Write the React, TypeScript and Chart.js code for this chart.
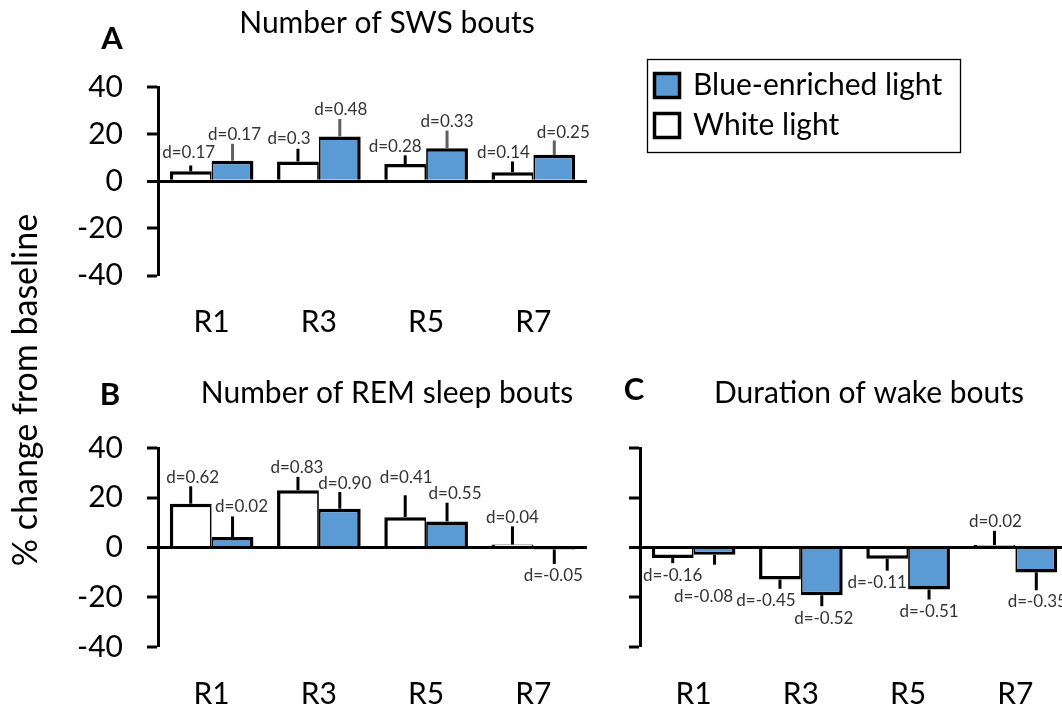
import { useEffect, useRef } from 'react';
import { Chart, registerables } from 'chart.js';

Chart.register(...registerables);

// ---- data -------------------------------------------------------------
const rounds = ['R1', 'R3', 'R5', 'R7'];
const seriesNames = ['Blue-enriched light', 'White light'];
const yAxisTitle = '% change from baseline';
const yMin = -40;
const yMax = 40;
const yStep = 20;

// A: number of SWS bouts
const swsWhite = [4.2, 8.4, 7.3, 3.8];
const swsWhiteErr = [2.5, 5.4, 3.7, 4.6];
const swsBlue = [8.7, 19.0, 14.0, 11.2];
const swsBlueErr = [7.2, 7.4, 7.5, 6.1];
const swsWhiteD = ['d=0.17', 'd=0.3', 'd=0.28', 'd=0.14'];
const swsBlueD = ['d=0.17', 'd=0.48', 'd=0.33', 'd=0.25'];

// B: number of REM sleep bouts
const remWhite = [17.6, 23.0, 12.2, 1.2];
const remWhiteErr = [7.0, 5.4, 8.8, 7.3];
const remBlue = [4.2, 15.6, 10.5, -0.8];
const remBlueErr = [8.3, 6.7, 7.5, 5.8];
const remWhiteD = ['d=0.62', 'd=0.83', 'd=0.41', 'd=0.04'];
const remBlueD = ['d=0.02', 'd=0.90', 'd=0.55', 'd=-0.05'];

// C: duration of wake bouts
const wakeWhite = [-4.2, -12.9, -4.5, 1.0];
const wakeWhiteErr = [2.1, 3.7, 4.8, 5.7];
const wakeBlue = [-2.9, -19.2, -16.9, -10.0];
const wakeBlueErr = [4.0, 4.4, 4.0, 7.2];
const wakeWhiteD = ['d=-0.16', 'd=-0.45', 'd=-0.11', 'd=0.02'];
const wakeBlueD = ['d=-0.08', 'd=-0.52', 'd=-0.51', 'd=-0.35'];

// ---- styling ------------------------------------------------------------
const FONT = 'Lato, "Open Sans", sans-serif';
const BLUE = '#5B9BD5';
const INK = '#000000';
const LABEL_INK = '#333333';
const EDGE = 3.5;

type Nudge = [number, number];

interface Panel {
  letter: string;
  title: string;
  white: number[];
  whiteErr: number[];
  blue: number[];
  blueErr: number[];
  whiteD: string[];
  blueD: string[];
  whiteNudge: Nudge[];
  blueNudge: Nudge[];
  blueErrColor: string;
  canvasW: number;
  area: { left: number; right: number; top: number; bottom: number };
  yWidth: number;
  tickLabels: boolean;
  letterPos: [number, number];
  titlePos: [number, number];
  decorations: boolean;
}

const CANVAS_H = 711;

const panels: Panel[] = [
  {
    letter: 'A',
    title: 'Number of SWS bouts',
    white: swsWhite, whiteErr: swsWhiteErr, blue: swsBlue, blueErr: swsBlueErr,
    whiteD: swsWhiteD, blueD: swsBlueD,
    whiteNudge: [[-2, -4], [-9, -1], [-10, 0], [-9, 0]],
    blueNudge: [[2, 0], [1, -1], [0, 0], [9, 1]],
    blueErrColor: '#5f5f5f',
    canvasW: 1062,
    area: { left: 158, right: 587, top: 87, bottom: 275.5 },
    yWidth: 158,
    tickLabels: true,
    letterPos: [112, 49],
    titlePos: [387, 33],
    decorations: true,
  },
  {
    letter: 'B',
    title: 'Number of REM sleep bouts',
    white: remWhite, whiteErr: remWhiteErr, blue: remBlue, blueErr: remBlueErr,
    whiteD: remWhiteD, blueD: remBlueD,
    whiteNudge: [[2, 0], [-1, 0], [1, -9], [0, 0]],
    blueNudge: [[9, -1], [5, 0], [8, 0], [-1, 0]],
    blueErrColor: INK,
    canvasW: 1062,
    area: { left: 158, right: 587, top: 448, bottom: 647 },
    yWidth: 158,
    tickLabels: true,
    letterPos: [110, 405],
    titlePos: [387, 403],
    decorations: false,
  },
  {
    letter: 'C',
    title: 'Duration of wake bouts',
    white: wakeWhite, whiteErr: wakeWhiteErr, blue: wakeBlue, blueErr: wakeBlueErr,
    whiteD: wakeWhiteD, blueD: wakeBlueD,
    whiteNudge: [[0, 0], [-14, 0], [-10, 0], [1, 0]],
    blueNudge: [[-11, 20], [2, 0], [0, 0], [1, -1]],
    blueErrColor: INK,
    canvasW: 1100,
    area: { left: 640, right: 1069, top: 448, bottom: 647 },
    yWidth: 100,
    tickLabels: false,
    letterPos: [634, 400],
    titlePos: [869, 403],
    decorations: false,
  },
];

// Error whiskers and effect-size labels on top of each bar
function barExtras(p: Panel) {
  const series = [
    { values: p.white, errors: p.whiteErr, labels: p.whiteD, nudge: p.whiteNudge, color: INK },
    { values: p.blue, errors: p.blueErr, labels: p.blueD, nudge: p.blueNudge, color: p.blueErrColor },
  ];
  return {
    id: 'barExtras',
    afterDatasetsDraw(chart: any) {
      const { ctx } = chart;
      const y = chart.scales.y;
      series.forEach((s, di) => {
        const meta = chart.getDatasetMeta(di);
        meta.data.forEach((bar: any, i: number) => {
          const v = s.values[i];
          const e = s.errors[i];
          const end = v >= 0 ? v + e : v - e;
          const y0 = y.getPixelForValue(v);
          const y1 = y.getPixelForValue(end);
          ctx.save();
          ctx.strokeStyle = s.color;
          ctx.lineWidth = 3;
          ctx.beginPath();
          ctx.moveTo(bar.x, y0);
          ctx.lineTo(bar.x, y1);
          ctx.stroke();
          const [dx, dy] = s.nudge[i];
          const ly = v >= 0 ? y1 - 9 + dy : y1 + 12 + dy;
          ctx.font = `17px ${FONT}`;
          ctx.fillStyle = LABEL_INK;
          ctx.textAlign = 'center';
          ctx.textBaseline = 'middle';
          ctx.fillText(s.labels[i], bar.x + dx, ly);
          ctx.restore();
        });
      });
    },
  };
}

// Panel letter, panel title, and (on the first panel) the legend and shared y title
function panelText(p: Panel) {
  return {
    id: 'panelText',
    afterDraw(chart: any) {
      const { ctx } = chart;
      ctx.save();
      ctx.fillStyle = INK;
      ctx.textBaseline = 'alphabetic';
      ctx.textAlign = 'center';
      ctx.font = `bold 31px ${FONT}`;
      ctx.fillText(p.letter, p.letterPos[0], p.letterPos[1]);
      ctx.font = `30px ${FONT}`;
      ctx.fillText(p.title, p.titlePos[0], p.titlePos[1]);

      if (p.decorations) {
        // legend
        ctx.lineWidth = 1.3;
        ctx.strokeStyle = INK;
        ctx.strokeRect(647.5, 59.5, 313, 93);
        const swatches = [BLUE, '#ffffff'];
        const rows = [72, 112];
        ctx.lineWidth = 3.5;
        seriesNames.forEach((name, i) => {
          ctx.fillStyle = swatches[i];
          ctx.fillRect(654.5, rows[i] + 1.5, 25, 24);
          ctx.strokeRect(654.5, rows[i] + 1.5, 25, 24);
          ctx.fillStyle = INK;
          ctx.textAlign = 'left';
          ctx.font = `30px ${FONT}`;
          ctx.fillText(name, 693, rows[i] + 23);
        });

        // shared y-axis title
        ctx.save();
        ctx.translate(37, 390);
        ctx.rotate(-Math.PI / 2);
        ctx.textAlign = 'center';
        ctx.font = `34px ${FONT}`;
        ctx.fillText(yAxisTitle, 0, 0);
        ctx.restore();
      }
      ctx.restore();
    },
  };
}

function buildChart(canvas: HTMLCanvasElement, p: Panel) {
  const xHeight = 60;
  const half = EDGE / 2;
  return new Chart(canvas, {
    type: 'bar',
    data: {
      labels: rounds,
      datasets: [
        {
          label: seriesNames[1],
          data: p.white,
          backgroundColor: '#ffffff',
          borderColor: INK,
          borderWidth: { top: EDGE, left: EDGE, right: half, bottom: EDGE },
          borderSkipped: 'start',
          categoryPercentage: 0.78,
          barPercentage: 1,
        },
        {
          label: seriesNames[0],
          data: p.blue,
          backgroundColor: BLUE,
          borderColor: INK,
          borderWidth: { top: EDGE, left: half, right: EDGE, bottom: EDGE },
          borderSkipped: 'start',
          categoryPercentage: 0.78,
          barPercentage: 1,
        },
      ],
    },
    options: {
      responsive: false,
      maintainAspectRatio: false,
      animation: false,
      devicePixelRatio: 1,
      events: [],
      layout: {
        padding: {
          left: p.area.left - p.yWidth,
          right: p.canvasW - p.area.right,
          top: p.area.top,
          bottom: CANVAS_H - p.area.bottom - xHeight,
        },
      },
      plugins: {
        legend: { display: false },
        tooltip: { enabled: false },
        title: { display: false },
      },
      scales: {
        x: {
          type: 'category',
          offset: true,
          grid: { display: false, drawTicks: false },
          border: { display: false },
          ticks: {
            color: INK,
            font: { family: FONT, size: 30 },
            padding: 29,
            maxRotation: 0,
            autoSkip: false,
          },
          afterFit: (s: any) => { s.height = xHeight; },
        },
        y: {
          min: yMin,
          max: yMax,
          z: 1,
          ticks: {
            stepSize: yStep,
            color: p.tickLabels ? INK : 'rgba(0,0,0,0)',
            font: { family: FONT, size: 30 },
            padding: 24,
          },
          grid: {
            drawOnChartArea: true,
            color: (c: any) => (c.tick && c.tick.value === 0 ? INK : 'rgba(0,0,0,0)'),
            lineWidth: (c: any) => (c.tick && c.tick.value === 0 ? 3 : 0),
            tickLength: 11,
            tickWidth: 3,
            tickColor: INK,
          },
          border: { display: true, color: INK, width: 3 },
          afterFit: (s: any) => { s.width = p.yWidth; },
        },
      },
    },
    plugins: [barExtras(p), panelText(p)],
  } as any);
}

export default function App() {
  const refs = [useRef<HTMLCanvasElement>(null), useRef<HTMLCanvasElement>(null), useRef<HTMLCanvasElement>(null)];

  useEffect(() => {
    let charts: Chart[] = [];
    let cancelled = false;
    const make = () => {
      if (cancelled) return;
      charts = panels.map((p, i) => buildChart(refs[i].current as HTMLCanvasElement, p));
    };
    const fonts = (document as any).fonts;
    if (fonts && fonts.load) {
      Promise.all([fonts.load(`30px Lato`), fonts.load(`bold 30px Lato`)]).then(make, make);
    } else {
      make();
    }
    return () => {
      cancelled = true;
      charts.forEach((c) => c.destroy());
    };
  }, []);

  return (
    <div
      style={{
        position: 'fixed',
        left: 0,
        top: 0,
        width: 1062,
        height: CANVAS_H,
        overflow: 'hidden',
        background: '#ffffff',
      }}
    >
      {panels.map((p, i) => (
        <canvas
          key={p.letter}
          ref={refs[i]}
          width={p.canvasW}
          height={CANVAS_H}
          style={{ position: 'absolute', left: 0, top: 0, width: p.canvasW, height: CANVAS_H }}
        />
      ))}
    </div>
  );
}
